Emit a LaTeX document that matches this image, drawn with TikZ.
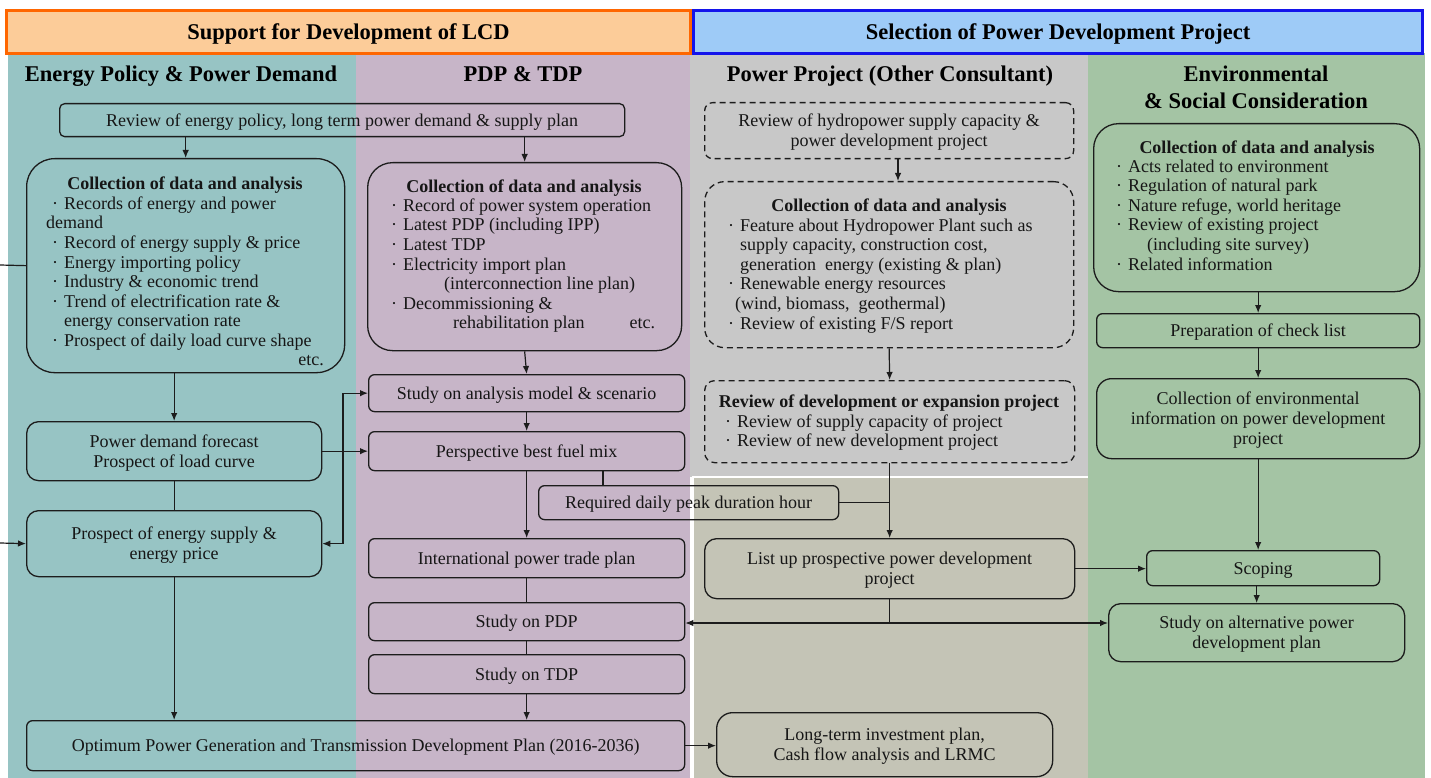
\documentclass[tikz,border=0pt]{standalone}
\usepackage{fontspec}
\setmainfont{Liberation Serif}
\usetikzlibrary{arrows.meta}

\definecolor{linec}{RGB}{28,28,28}
\definecolor{txt}{RGB}{22,22,22}
\definecolor{tealbg}{RGB}{151,196,196}
\definecolor{purpbg}{RGB}{199,181,200}
\definecolor{graybg}{RGB}{200,200,200}
\definecolor{khakibg}{RGB}{196,196,182}
\definecolor{greenbg}{RGB}{164,196,164}
\definecolor{orfill}{RGB}{252,204,153}
\definecolor{orline}{RGB}{255,102,0}
\definecolor{blfill}{RGB}{158,203,247}
\definecolor{blline}{RGB}{20,20,235}

% bullet mark used in the item lists
\newcommand{\bul}{\makebox[18pt][c]{·}}

\tikzset{
  pbox/.style={draw=linec, line width=1.3pt, rounded corners=#1, align=center,
    inner sep=0pt, anchor=north west, text=txt, text depth=0pt,
    font=\fontsize{18}{20}\selectfont},
  pbox/.default=6pt,
  dbox/.style={pbox=#1, dash pattern=on 6pt off 4pt},
  dbox/.default=10pt,
  arr/.style={draw=linec, line width=1.2pt, -{Latex[length=8pt,width=6.5pt]}},
  con/.style={draw=linec, line width=1.2pt},
  ttl/.style={text=txt, inner sep=0pt, text depth=0pt,
    font=\fontsize{18}{20}\selectfont\bfseries},
  lbl/.style={text=txt, inner sep=0pt, text depth=0pt, font=\fontsize{18}{20}\selectfont},
  blist/.style={anchor=north west, align=left, inner sep=0pt, text=txt,
    font=\fontsize{18}{19.6}\selectfont},
  coltitle/.style={align=center, inner sep=0pt, text=black, text depth=0pt,
    font=\fontsize{22.5}{27}\selectfont\bfseries},
  header/.style={anchor=north west, inner sep=0pt, line width=3pt, text=black,
    text depth=0pt, font=\fontsize{22.5}{27}\selectfont\bfseries},
}

\begin{document}
\begin{tikzpicture}[x=1pt,y=-1pt]
\useasboundingbox (0,0) rectangle (1431,778);
\fill[white] (0,0) rectangle (1431,778);

% column backgrounds
\fill[tealbg]  (8,53)    rectangle (356,778);
\fill[purpbg]  (356,53)  rectangle (690,778);
\fill[graybg]  (690,53)  rectangle (1088,477);
\fill[khakibg] (693,477) rectangle (1088,778);
\fill[greenbg] (1088,53) rectangle (1425,778);
\draw[white, line width=1.5pt] (693,778) -- (693,477) -- (1088,477);

% banners
\node[header, draw=orline, fill=orfill, minimum width=684pt, minimum height=43pt]
  (hL) at (5,9) {Support for Development of LCD};
\node[header, draw=blline, fill=blfill, minimum width=729pt, minimum height=43pt]
  (hR) at (692,9) {Selection of Power Development Project};

% column titles
\node[coltitle] (tEP)  at (181,74) {Energy Policy \& Power Demand};
\node[coltitle] (tPDP) at (523,74) {PDP \& TDP};
\node[coltitle] (tPP)  at (890,74) {Power Project (Other Consultant)};
\node[coltitle] (tEnv) at (1256,87.5) {Environmental\\\& Social Consideration};

% ---- Energy policy & power demand ----
\node[pbox=5pt, minimum width=565pt, minimum height=33pt] (rev) at (59,103)
  {Review of energy policy, long term power demand \& supply plan};

\node[pbox=28pt, minimum width=318pt, minimum height=214pt] (colL) at (26,158) {};
\node[ttl] (colLt) at (185,183) {Collection of data and analysis};
\node[blist] (colLb) at (46,196.5) {\bul Records of energy and power\\
demand\\
\bul Record of energy supply \& price\\
\bul Energy importing policy\\
\bul Industry \& economic trend\\
\bul Trend of electrification rate \&\\
\hspace*{18pt}energy conservation rate\\
\bul Prospect of daily load curve shape};
\node[lbl, anchor=east] (colLe) at (324,360) {etc.};

\node[pbox=12pt, minimum width=295pt, minimum height=59pt] (pdf) at (26,421)
  {Power demand forecast\\Prospect of load curve};
\node[pbox=12pt, minimum width=295pt, minimum height=66pt] (pes) at (26,510)
  {Prospect of energy supply \&\\energy price};

\node[pbox=6pt, minimum width=658pt, minimum height=50pt] (opt) at (26,720)
  {Optimum Power Generation and Transmission Development Plan (2016-2036)};

% ---- PDP & TDP ----
\node[pbox=25pt, minimum width=314pt, minimum height=188pt] (colP) at (367,162) {};
\node[ttl] (colPt) at (524,186) {Collection of data and analysis};
\node[blist] (colPb) at (385,198.5) {\bul Record of power system operation\\
\bul Latest PDP (including IPP)\\
\bul Latest TDP\\
\bul Electricity import plan\\
\hspace*{59pt}(interconnection line plan)\\
\bul Decommissioning \&\\
\hspace*{68pt}rehabilitation plan\hspace{45pt}etc.};

\node[pbox=6pt, minimum width=316pt, minimum height=37pt] (sam) at (368,374)
  {Study on analysis model \& scenario};
\node[pbox=6pt, minimum width=316pt, minimum height=39pt] (fuel) at (368,431)
  {Perspective best fuel mix};
\node[pbox=6pt, minimum width=300pt, minimum height=34pt] (req) at (538,485)
  {Required daily peak duration hour};
\node[pbox=6pt, minimum width=316pt, minimum height=39pt] (ipt) at (368,538)
  {International power trade plan};
\node[pbox=6pt, minimum width=316pt, minimum height=38pt] (spdp) at (368,602)
  {Study on PDP};
\node[pbox=6pt, minimum width=316pt, minimum height=39pt] (stdp) at (368,654)
  {Study on TDP};

% ---- Power project ----
\node[dbox=8pt, minimum width=369pt, minimum height=56pt] (hyd) at (704,102)
  {Review of hydropower supply capacity \&\\power development project};
\node[dbox=20pt, minimum width=369pt, minimum height=166pt] (colPP) at (704,181) {};
\node[ttl] (colPPt) at (889,205) {Collection of data and analysis};
\node[blist] (colPPb) at (722,218.5) {\bul Feature about Hydropower Plant such as\\
\hspace*{18pt}supply capacity, construction cost,\\
\hspace*{18pt}generation\ \ energy (existing \& plan)\\
\bul Renewable energy resources\\
\hspace*{13pt}(wind, biomass,\ \ geothermal)\\
\bul Review of existing F/S report};
\node[dbox=10pt, minimum width=370pt, minimum height=82pt] (devx) at (704,380) {};
\node[ttl] (devxt) at (889,401) {Review of development or expansion project};
\node[blist] (devxb) at (719,414.5) {\bul Review of supply capacity of project\\
\bul Review of new development project};

\node[pbox=12pt, minimum width=370pt, minimum height=60pt] (lst) at (704,538)
  {List up prospective power development\\project};
\node[pbox=16pt, minimum width=336pt, minimum height=64pt] (lti) at (716,712)
  {Long-term investment plan,\\Cash flow analysis and LRMC};

% ---- Environmental & social ----
\node[pbox=25pt, minimum width=326pt, minimum height=168pt] (colE) at (1093,123) {};
\node[ttl] (colEt) at (1257,147) {Collection of data and analysis};
\node[blist] (colEb) at (1110,159.5) {\bul Acts related to environment\\
\bul Regulation of natural park\\
\bul Nature refuge, world heritage\\
\bul Review of existing project\\
\hspace*{37pt}(including site survey)\\
\bul Related information};
\node[pbox=6pt, minimum width=323pt, minimum height=34pt] (chk) at (1096,313)
  {Preparation of check list};
\node[pbox=15pt, minimum width=323pt, minimum height=80pt] (cenv) at (1096,378)
  {Collection of environmental\\information on power development\\project};
\node[pbox=6pt, minimum width=233pt, minimum height=35pt] (scop) at (1146,550)
  {Scoping};
\node[pbox=12pt, minimum width=296pt, minimum height=58pt] (alt) at (1108,603)
  {Study on alternative power\\development plan};

% ---- connectors ----
\coordinate (offA) at (0,265);
\coordinate (offB) at (0,543);
\coordinate (jx) at (343,450.5);

\draw[arr] (colL.north |- rev.south) -- (colL.north);
\draw[arr] (colP.north |- rev.south) -- (colP.north);
\draw[con] (colL.west) -- (offA);
\draw[arr] (offB) -- (pes.west);
\draw[arr] (pdf.north |- colL.south) -- (pdf.north);
\draw[con] (pdf.south) -- (pes.north);
\draw[arr] (pes.south) -- (opt.north -| pes.south);
\draw[arr] (pdf.east) -- (fuel.west);
\draw[arr] (jx) |- (sam.west);
\draw[arr] (jx) |- (pes.east);

\draw[arr] (colP.south) -- (sam.north);
\draw[arr] (sam.south) -- (fuel.north);
\draw[arr] (fuel.south) -- (ipt.north);
\draw[con] (fuel.south -| 603,0) -- (req.north -| 603,0);
\draw[con] (req.east) -- (req.east -| lst.north);
\draw[con] (ipt.south) -- (spdp.north);
\draw[con] (spdp.south) -- (stdp.north);
\draw[arr] (stdp.south) -- (opt.north -| stdp.south);
\draw[arr] (opt.east) -- (opt.east -| lti.west);

\draw[arr] (hyd.south -| 898,0) -- (colPP.north -| 898,0);
\draw[arr] (colPP.south) -- (devx.north);
\draw[arr] (devx.south) -- (lst.north);
\draw[arr] (lst.east) -- (lst.east -| scop.west);
\coordinate (jl) at (lst.south |- 0,623);
\draw[con] (lst.south) -- (jl);
\draw[arr] (jl) -- (jl -| spdp.east);
\draw[arr] (jl) -- (jl -| alt.west);

\draw[arr] (colE.south -| chk.north) -- (chk.north);
\draw[arr] (chk.south) -- (cenv.north);
\draw[arr] (cenv.south) -- (cenv.south |- scop.north);
\draw[arr] (alt.north |- scop.south) -- (alt.north);
\end{tikzpicture}
\end{document}
